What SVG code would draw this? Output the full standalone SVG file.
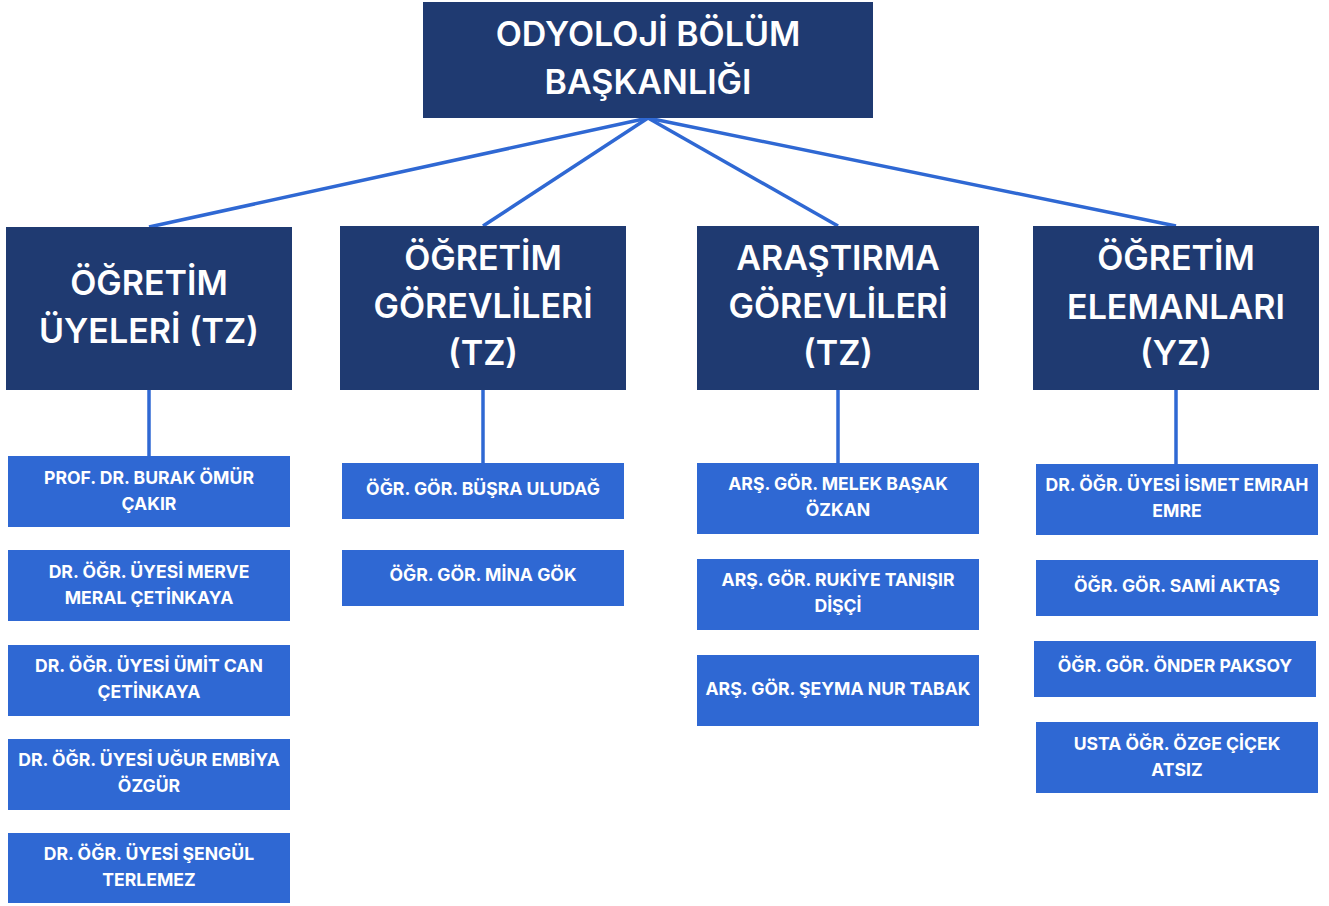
<svg xmlns="http://www.w3.org/2000/svg" width="1329" height="906" viewBox="0 0 1329 906">
<style>
.dk{fill:#1f3a71}
.lt{fill:#2f68d3}
.t1{font-family:Inter,"Open Sans","Liberation Sans",sans-serif;font-weight:600;font-size:34px;fill:#ffffff;text-anchor:middle}
.t3{font-family:Inter,"Open Sans","Liberation Sans",sans-serif;font-weight:700;font-size:17.6px;fill:#ffffff;text-anchor:middle}
.cn{stroke:#2f68d3;stroke-width:3.5;fill:none}
</style>
<rect width="1329" height="906" fill="#ffffff"/>
<g id="connectors">
<line class="cn" x1="648" y1="118" x2="149" y2="227"/>
<line class="cn" x1="648" y1="118" x2="483" y2="226"/>
<line class="cn" x1="648" y1="118" x2="838" y2="226"/>
<line class="cn" x1="648" y1="118" x2="1176" y2="226"/>
<line class="cn" x1="149" y1="390" x2="149" y2="456"/>
<line class="cn" x1="483" y1="390" x2="483" y2="463"/>
<line class="cn" x1="838" y1="390" x2="838" y2="463"/>
<line class="cn" x1="1176" y1="390" x2="1176" y2="464"/>
</g>
<g id="root">
<rect class="dk" x="423" y="2" width="450" height="116"/>
<text class="t1" x="648" y="46">ODYOLOJİ BÖLÜM</text>
<text class="t1" x="648" y="94">BAŞKANLIĞI</text>
</g>
<g id="ogretim-uyeleri">
<rect class="dk" x="6" y="227" width="286" height="163"/>
<text class="t1" x="149" y="295">ÖĞRETİM</text>
<text class="t1" x="149" y="343">ÜYELERİ (TZ)</text>
</g>
<g id="ogretim-gorevlileri">
<rect class="dk" x="340" y="226" width="286" height="164"/>
<text class="t1" x="483" y="270">ÖĞRETİM</text>
<text class="t1" x="483" y="318">GÖREVLİLERİ</text>
<text class="t1" x="483" y="365">(TZ)</text>
</g>
<g id="arastirma-gorevlileri">
<rect class="dk" x="697" y="226" width="282" height="164"/>
<text class="t1" x="838" y="270">ARAŞTIRMA</text>
<text class="t1" x="838" y="318">GÖREVLİLERİ</text>
<text class="t1" x="838" y="365">(TZ)</text>
</g>
<g id="ogretim-elemanlari">
<rect class="dk" x="1033" y="226" width="286" height="164"/>
<text class="t1" x="1176" y="270">ÖĞRETİM</text>
<text class="t1" x="1176" y="319">ELEMANLARI</text>
<text class="t1" x="1176" y="365">(YZ)</text>
</g>
<g id="c1-1"><rect class="lt" x="8" y="456" width="282" height="71"/><text class="t3" x="149" y="484">PROF. DR. BURAK ÖMÜR</text><text class="t3" x="149" y="510">ÇAKIR</text></g>
<g id="c1-2"><rect class="lt" x="8" y="550" width="282" height="71"/><text class="t3" x="149" y="578">DR. ÖĞR. ÜYESİ MERVE</text><text class="t3" x="149" y="604">MERAL ÇETİNKAYA</text></g>
<g id="c1-3"><rect class="lt" x="8" y="645" width="282" height="71"/><text class="t3" x="149" y="672">DR. ÖĞR. ÜYESİ ÜMİT CAN</text><text class="t3" x="149" y="698">ÇETİNKAYA</text></g>
<g id="c1-4"><rect class="lt" x="8" y="739" width="282" height="71"/><text class="t3" x="149" y="766">DR. ÖĞR. ÜYESİ UĞUR EMBİYA</text><text class="t3" x="149" y="792">ÖZGÜR</text></g>
<g id="c1-5"><rect class="lt" x="8" y="833" width="282" height="70"/><text class="t3" x="149" y="860">DR. ÖĞR. ÜYESİ ŞENGÜL</text><text class="t3" x="149" y="886">TERLEMEZ</text></g>
<g id="c2-1"><rect class="lt" x="342" y="463" width="282" height="56"/><text class="t3" x="483" y="495">ÖĞR. GÖR. BÜŞRA ULUDAĞ</text></g>
<g id="c2-2"><rect class="lt" x="342" y="550" width="282" height="56"/><text class="t3" x="483" y="581">ÖĞR. GÖR. MİNA GÖK</text></g>
<g id="c3-1"><rect class="lt" x="697" y="463" width="282" height="71"/><text class="t3" x="838" y="490">ARŞ. GÖR. MELEK BAŞAK</text><text class="t3" x="838" y="516">ÖZKAN</text></g>
<g id="c3-2"><rect class="lt" x="697" y="559" width="282" height="71"/><text class="t3" x="838" y="586">ARŞ. GÖR. RUKİYE TANIŞIR</text><text class="t3" x="838" y="612">DİŞÇİ</text></g>
<g id="c3-3"><rect class="lt" x="697" y="655" width="282" height="71"/><text class="t3" x="838" y="695">ARŞ. GÖR. ŞEYMA NUR TABAK</text></g>
<g id="c4-1"><rect class="lt" x="1036" y="464" width="282" height="71"/><text class="t3" x="1177" y="491">DR. ÖĞR. ÜYESİ İSMET EMRAH</text><text class="t3" x="1177" y="517">EMRE</text></g>
<g id="c4-2"><rect class="lt" x="1036" y="560" width="282" height="56"/><text class="t3" x="1177" y="592">ÖĞR. GÖR. SAMİ AKTAŞ</text></g>
<g id="c4-3"><rect class="lt" x="1034" y="641" width="282" height="56"/><text class="t3" x="1175" y="672">ÖĞR. GÖR. ÖNDER PAKSOY</text></g>
<g id="c4-4"><rect class="lt" x="1036" y="722" width="282" height="71"/><text class="t3" x="1177" y="750">USTA ÖĞR. ÖZGE ÇİÇEK</text><text class="t3" x="1177" y="776">ATSIZ</text></g>
</svg>
